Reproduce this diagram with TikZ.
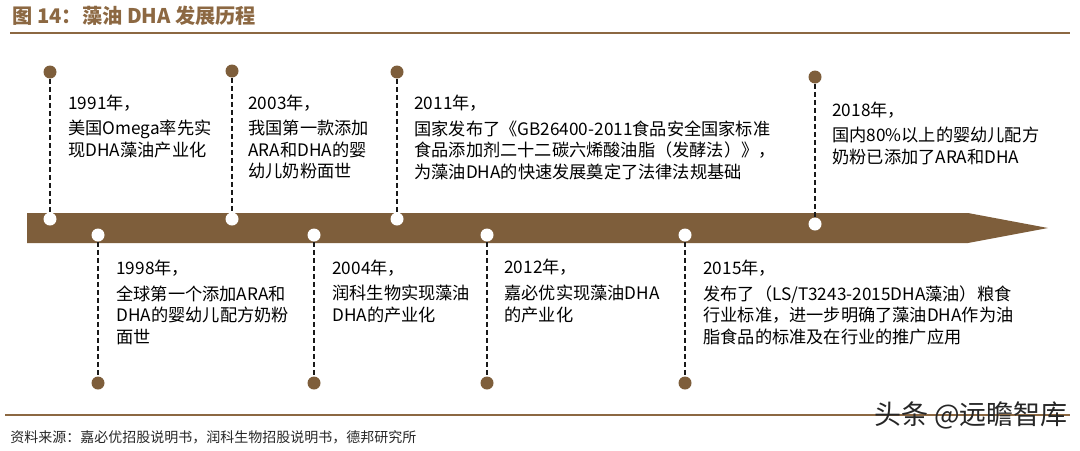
\documentclass[tikz,border=0pt]{standalone}
\usepackage{fontspec}
\usepackage{tikz}
\usetikzlibrary{arrows,positioning}
\setmainfont{Noto Sans CJK SC}
\newfontfamily\cjk{Noto Sans CJK SC}
\definecolor{barbrown}{RGB}{126,94,59}
\definecolor{titlebrown}{RGB}{140,104,66}
\begin{document}
\begin{tikzpicture}[x=0.5pt, y=-0.5pt,
		topdot/.style={circle, fill=barbrown, inner sep=0pt, minimum size=6.5pt},
		bardot/.style={circle, fill=white, inner sep=0pt, minimum size=6.5pt},
		stem/.style={black!90, line width=1.2pt, dash pattern=on 2.6pt off 1.4pt},
		year/.style={anchor=west, inner sep=0pt, font=\cjk\fontsize{8.6}{10.75}\selectfont},
		body/.style={anchor=north west, inner sep=0pt, align=left, font=\cjk\fontsize{8.6}{10.75}\selectfont}]
			\useasboundingbox (0, 0) rectangle (1080, 450);

			\node [anchor=west, inner sep=0pt, text=titlebrown, font=\cjk\bfseries\fontsize{10.1}{12}\selectfont] (title) at (12, 16) {图 14：藻油 DHA 发展历程};
			\draw [titlebrown, line width=0.8pt] (10, 33) -- (1070, 33);

			\fill [barbrown] (27, 213) -- (968, 213) -- (1048, 228) -- (968, 243) -- (27, 243) -- cycle;

			\node [topdot] (top1991) at (50, 72) {};
			\node [bardot] (bar1991) at (50, 219) {};
			\node [year] (year1991) at (68, 103) {1991年，};
			\node [body] (text1991) at (68, 120) {美国Omega率先实\\现DHA藻油产业化};

			\node [topdot] (top2003) at (232, 71) {};
			\node [bardot] (bar2003) at (232, 219) {};
			\node [year] (year2003) at (248, 103) {2003年，};
			\node [body] (text2003) at (248, 120) {我国第一款添加\\ARA和DHA的婴\\幼儿奶粉面世};

			\node [topdot] (top2011) at (397, 72) {};
			\node [bardot] (bar2011) at (397, 219) {};
			\node [year] (year2011) at (414, 103) {2011年，};
			\node [body] (text2011) at (414, 120) {国家发布了《GB26400-2011食品安全国家标准\\食品添加剂二十二碳六烯酸油脂（发酵法）》，\\为藻油DHA的快速发展奠定了法律法规基础};

			\node [topdot] (top2018) at (815, 77) {};
			\node [bardot] (bar2018) at (815, 224) {};
			\node [year] (year2018) at (832, 110) {2018年，};
			\node [body] (text2018) at (832, 127) {国内80\%以上的婴幼儿配方\\奶粉已添加了ARA和DHA};

			\node [bardot] (bar1998) at (98, 235) {};
			\node [topdot] (bot1998) at (98, 383) {};
			\node [year] (year1998) at (116, 268) {1998年，};
			\node [body] (text1998) at (116, 285) {全球第一个添加ARA和\\DHA的婴幼儿配方奶粉\\面世};

			\node [bardot] (bar2004) at (314, 235) {};
			\node [topdot] (bot2004) at (314, 383) {};
			\node [year] (year2004) at (332, 268) {2004年，};
			\node [body] (text2004) at (332, 285) {润科生物实现藻油\\DHA的产业化};

			\node [bardot] (bar2012) at (487, 235) {};
			\node [topdot] (bot2012) at (487, 383) {};
			\node [year] (year2012) at (504, 267) {2012年，};
			\node [body] (text2012) at (504, 285) {嘉必优实现藻油DHA\\的产业化};

			\node [bardot] (bar2015) at (685, 235) {};
			\node [topdot] (bot2015) at (685, 383) {};
			\node [year] (year2015) at (703, 268) {2015年，};
			\node [body] (text2015) at (703, 285) {发布了（LS/T3243-2015DHA藻油）粮食\\行业标准，进一步明确了藻油DHA作为油\\脂食品的标准及在行业的推广应用};

			\draw [stem] (top1991) to (bar1991);
			\draw [stem] (top2003) to (bar2003);
			\draw [stem] (top2011) to (bar2011);
			\draw [stem] (top2018) to (bar2018);
			\draw [stem] (bar1998) to (bot1998);
			\draw [stem] (bar2004) to (bot2004);
			\draw [stem] (bar2012) to (bot2012);
			\draw [stem] (bar2015) to (bot2015);

			\draw [titlebrown, line width=0.8pt] (5, 415) -- (1070, 415);
			\node [anchor=west, inner sep=0pt, text=black!85, font=\cjk\fontsize{7}{8}\selectfont] (source) at (10, 437) {资料来源：嘉必优招股说明书，润科生物招股说明书，德邦研究所};
			\node [anchor=east, inner sep=0pt, text=black!85, font=\cjk\fontsize{13.5}{15}\selectfont] (mark) at (1068, 415) {头条 @远瞻智库};
	\end{tikzpicture}
\end{document}
